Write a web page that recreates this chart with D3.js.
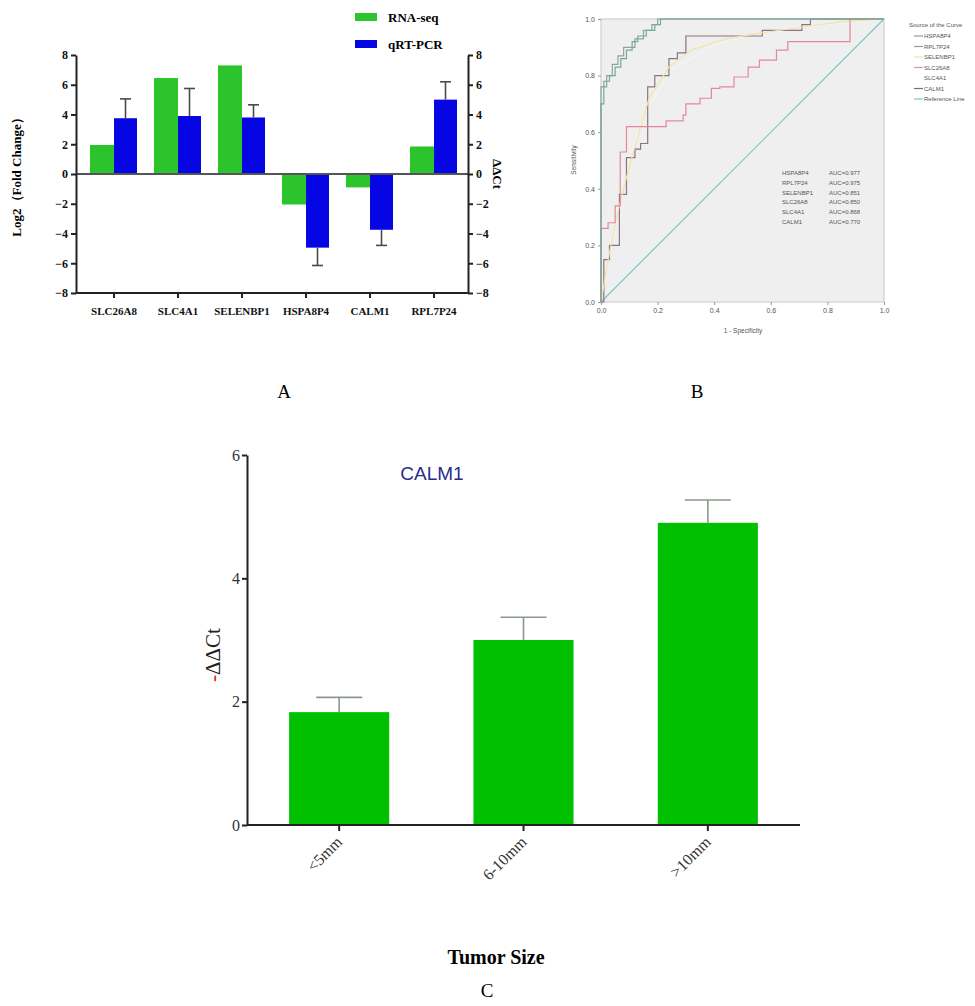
<!DOCTYPE html>
<html>
<head>
<meta charset="utf-8">
<style>
  body { margin: 0; background: #ffffff; }
  svg { display: block; }
</style>
<script src="https://d3js.org/d3.v7.min.js"></script>
</head>
<body>
<svg id="fig" width="975" height="1006"></svg>
<script>
var SERIF = '"Times New Roman", "Liberation Serif", serif';
var SANS = 'Arial, "Liberation Sans", sans-serif';

// ---- panel A data ----
var genes = ["SLC26A8", "SLC4A1", "SELENBP1", "HSPA8P4", "CALM1", "RPL7P24"];
var rnaSeq = [1.95, 6.45, 7.3, -2.05, -0.9, 1.85];
var qrtPcr = [3.75, 3.9, 3.8, -4.95, -3.75, 5.0];
var qrtPcrErr = [1.3, 1.85, 0.85, 1.2, 1.05, 1.2];
var ticksA = [-8, -6, -4, -2, 0, 2, 4, 6, 8];

// ---- panel B data (fpr, tpr) ----
var rocNames = ["HSPA8P4", "RPL7P24", "SELENBP1", "SLC26A8", "SLC4A1", "CALM1"];
var rocAuc = ["AUC=0.977", "AUC=0.975", "AUC=0.851", "AUC=0.850", "AUC=0.868", "AUC=0.770"];
var rocColors = ["#6fae90", "#8fa39c", "#f1e4a6", "#e3879a", "#f4f4f4", "#8b7382"];
var rocHSPA8P4 = [[0,0],[0,0.70],[0.01,0.70],[0.01,0.78],[0.03,0.78],[0.03,0.80],[0.05,0.80],[0.05,0.83],
  [0.07,0.83],[0.07,0.86],[0.09,0.86],[0.09,0.89],[0.11,0.89],[0.11,0.92],[0.13,0.92],[0.13,0.94],
  [0.16,0.94],[0.16,0.96],[0.19,0.96],[0.19,0.98],[0.21,0.98],[0.21,1],[1,1]];
var rocRPL7P24 = [[0,0],[0,0.76],[0.02,0.76],[0.02,0.80],[0.04,0.80],[0.04,0.84],[0.06,0.84],[0.06,0.87],
  [0.08,0.87],[0.08,0.90],[0.12,0.90],[0.12,0.93],[0.15,0.93],[0.15,0.96],[0.18,0.96],[0.18,0.98],
  [0.2,0.98],[0.2,1],[1,1]];
var rocSELENBP1 = [[0,0],[0.02,0.12],[0.05,0.28],[0.09,0.44],[0.12,0.55],[0.17,0.72],[0.24,0.83],
  [0.32,0.89],[0.44,0.93],[0.56,0.95],[0.7,0.97],[0.85,0.99],[1,1]];
var rocSLC26A8 = [[0,0],[0,0.26],[0.025,0.26],[0.025,0.28],[0.05,0.28],[0.05,0.34],[0.068,0.34],[0.068,0.53],
  [0.09,0.53],[0.09,0.62],[0.23,0.62],[0.23,0.64],[0.29,0.64],[0.29,0.66],[0.3,0.66],[0.3,0.70],
  [0.35,0.70],[0.35,0.72],[0.39,0.72],[0.39,0.755],[0.42,0.755],[0.42,0.76],[0.47,0.76],[0.47,0.795],
  [0.52,0.795],[0.52,0.83],[0.56,0.83],[0.56,0.855],[0.62,0.855],[0.62,0.89],[0.66,0.89],[0.66,0.92],
  [0.88,0.92],[0.88,1],[1,1]];
var rocSLC4A1 = [[0,0],[0.03,0.2],[0.08,0.45],[0.15,0.66],[0.25,0.82],[0.4,0.91],[0.6,0.96],[1,1]];
var rocCALM1 = [[0,0],[0.01,0],[0.01,0.15],[0.03,0.15],[0.03,0.2],[0.065,0.2],[0.065,0.38],[0.09,0.38],
  [0.09,0.51],[0.12,0.51],[0.12,0.54],[0.14,0.54],[0.14,0.56],[0.165,0.56],[0.165,0.76],[0.19,0.76],
  [0.19,0.80],[0.24,0.80],[0.24,0.86],[0.27,0.86],[0.27,0.88],[0.3,0.88],[0.3,0.94],[0.57,0.94],
  [0.57,0.96],[0.71,0.96],[0.71,0.98],[0.74,0.98],[0.74,1],[1,1]];
var rocCurves = [rocHSPA8P4, rocRPL7P24, rocSELENBP1, rocSLC26A8, rocSLC4A1, rocCALM1];
var ticksB = [0, 0.2, 0.4, 0.6, 0.8, 1.0];

// ---- panel C data ----
var sizes = ["<5mm", "6-10mm", ">10mm"];
var calm1 = [1.83, 3.0, 4.9];
var calm1Err = [0.24, 0.37, 0.37];
var ticksC = [0, 2, 4, 6];

var svg = d3.select("#fig");

// ================= Panel A =================
var greenA = "#2cc42c", blueA = "#0606e4";
var yA = d3.scaleLinear().domain([-8, 8]).range([293, 55]);
var xA = d3.scaleBand().domain(genes).range([82, 466]);
var gA = svg.append("g");

gA.selectAll(".rna").data(genes).enter().append("rect")
  .attr("x", function(d) { return xA(d) + xA.bandwidth() / 2 - 24; })
  .attr("y", function(d, i) { return yA(Math.max(0, rnaSeq[i])); })
  .attr("width", 24)
  .attr("height", function(d, i) { return Math.abs(yA(rnaSeq[i]) - yA(0)); })
  .attr("fill", greenA);

gA.selectAll(".pcr").data(genes).enter().append("rect")
  .attr("x", function(d) { return xA(d) + xA.bandwidth() / 2; })
  .attr("y", function(d, i) { return yA(Math.max(0, qrtPcr[i])); })
  .attr("width", 23)
  .attr("height", function(d, i) { return Math.abs(yA(qrtPcr[i]) - yA(0)); })
  .attr("fill", blueA);

// error bars going away from zero
var errA = gA.selectAll(".errA").data(genes).enter().append("g")
  .attr("stroke", "#4a4a4a").attr("stroke-width", 1.6);
errA.append("line")
  .attr("x1", function(d) { return xA(d) + xA.bandwidth() / 2 + 11.5; })
  .attr("x2", function(d) { return xA(d) + xA.bandwidth() / 2 + 11.5; })
  .attr("y1", function(d, i) { return yA(qrtPcr[i]); })
  .attr("y2", function(d, i) { return yA(qrtPcr[i] + Math.sign(qrtPcr[i]) * qrtPcrErr[i]); });
errA.append("line")
  .attr("x1", function(d) { return xA(d) + xA.bandwidth() / 2 + 6; })
  .attr("x2", function(d) { return xA(d) + xA.bandwidth() / 2 + 17; })
  .attr("y1", function(d, i) { return yA(qrtPcr[i] + Math.sign(qrtPcr[i]) * qrtPcrErr[i]); })
  .attr("y2", function(d, i) { return yA(qrtPcr[i] + Math.sign(qrtPcr[i]) * qrtPcrErr[i]); });

// zero line
gA.append("line").attr("x1", 76).attr("x2", 468).attr("y1", yA(0)).attr("y2", yA(0))
  .attr("stroke", "#555").attr("stroke-width", 2);

var axL = gA.append("g").attr("transform", "translate(76,0)")
  .call(d3.axisLeft(yA).tickValues(ticksA).tickFormat(d3.format("d")).tickSize(5).tickSizeOuter(0));
var axR = gA.append("g").attr("transform", "translate(468,0)")
  .call(d3.axisRight(yA).tickValues(ticksA).tickFormat(d3.format("d")).tickSize(5).tickSizeOuter(0));
var axB = gA.append("g").attr("transform", "translate(0,293)")
  .call(d3.axisBottom(xA).tickSize(5).tickSizeOuter(0).tickPadding(9));
axB.select(".domain").remove();
gA.append("line").attr("x1", 76).attr("x2", 468).attr("y1", 293).attr("y2", 293)
  .attr("stroke", "#222").attr("stroke-width", 2);
[axL, axR, axB].forEach(function(a) {
  a.attr("font-family", SERIF).attr("font-size", 12).attr("font-weight", "bold");
  a.selectAll("path, line").attr("stroke", "#222").attr("stroke-width", 2);
  a.selectAll("text").attr("fill", "#111");
});
axB.attr("font-size", 11);

gA.append("text").attr("font-family", SERIF)
  .attr("transform", "translate(21,174) rotate(-90)")
  .attr("text-anchor", "middle").attr("font-size", 13).attr("font-weight", "bold")
  .text("Log2（Fold Change）");
gA.append("text").attr("font-family", SERIF)
  .attr("transform", "translate(493,174) rotate(90)")
  .attr("text-anchor", "middle").attr("font-size", 13).attr("font-weight", "bold")
  .text("ΔΔCt");

var legA = [["RNA-seq", greenA], ["qRT-PCR", blueA]];
legA.forEach(function(l, i) {
  gA.append("rect").attr("x", 355).attr("y", 13 + i * 27).attr("width", 22).attr("height", 8).attr("fill", l[1]);
  gA.append("text").attr("font-family", SERIF).attr("x", 388).attr("y", 22 + i * 27)
    .attr("font-size", 13).attr("font-weight", "bold").text(l[0]);
});

// ================= Panel B =================
var xB = d3.scaleLinear().domain([0, 1]).range([601, 884]);
var yB = d3.scaleLinear().domain([0, 1]).range([302, 19]);
var gB = svg.append("g");
gB.append("rect").attr("x", 601).attr("y", 19).attr("width", 283).attr("height", 283)
  .attr("fill", "#efefef").attr("stroke", "#cfcfcf").attr("stroke-width", 1.2);

var line = d3.line().x(function(d) { return xB(d[0]); }).y(function(d) { return yB(d[1]); });
gB.append("path").datum([[0, 0], [1, 1]]).attr("d", line)
  .attr("fill", "none").attr("stroke", "#74c8c6").attr("stroke-width", 1.2);
var drawOrder = [4, 5, 2, 3, 1, 0];
drawOrder.forEach(function(k) {
  gB.append("path").datum(rocCurves[k]).attr("d", line)
    .attr("fill", "none").attr("stroke", rocColors[k]).attr("stroke-width", 1.2);
});

var axBx = gB.append("g").attr("transform", "translate(0,302)")
  .call(d3.axisBottom(xB).tickValues(ticksB).tickFormat(d3.format(".1f")).tickSize(3).tickSizeOuter(0));
var axBy = gB.append("g").attr("transform", "translate(601,0)")
  .call(d3.axisLeft(yB).tickValues(ticksB).tickFormat(d3.format(".1f")).tickSize(3).tickSizeOuter(0));
[axBx, axBy].forEach(function(a) {
  a.select(".domain").remove();
  a.attr("font-family", SANS).attr("font-size", 7);
  a.selectAll("line").attr("stroke", "#999");
  a.selectAll("text").attr("fill", "#555");
});
gB.append("text").attr("font-family", SANS).attr("x", 743).attr("y", 333)
  .attr("text-anchor", "middle").attr("font-size", 6.5).attr("fill", "#555").text("1 - Specificity");
gB.append("text").attr("font-family", SANS).attr("transform", "translate(576,160) rotate(-90)")
  .attr("text-anchor", "middle").attr("font-size", 6.5).attr("fill", "#555").text("Sensitivity");

rocNames.forEach(function(n, i) {
  gB.append("text").attr("font-family", SANS).attr("x", 782).attr("y", 175 + i * 9.8)
    .attr("font-size", 6).attr("fill", "#555").text(n);
  gB.append("text").attr("font-family", SANS).attr("x", 829).attr("y", 175 + i * 9.8)
    .attr("font-size", 6).attr("fill", "#555").text(rocAuc[i]);
});

// legend
var legColors = ["#7aa598", "#9a9a9a", "#f1e4a6", "#c9a0aa", "#ffffff", "#7b6a6a", "#74c8c6"];
var legNames = rocNames.concat(["Reference Line"]);
gB.append("text").attr("font-family", SANS).attr("x", 909).attr("y", 27)
  .attr("font-size", 6).attr("fill", "#555").text("Source of the Curve");
legNames.forEach(function(n, i) {
  var yy = 38 + i * 10.5;
  gB.append("line").attr("x1", 914).attr("x2", 923).attr("y1", yy - 2).attr("y2", yy - 2)
    .attr("stroke", legColors[i]).attr("stroke-width", 1.2);
  gB.append("text").attr("font-family", SANS).attr("x", 924).attr("y", yy)
    .attr("font-size", 6).attr("fill", "#555").text(n);
});

// ================= Panel C =================
var greenC = "#00c000";
var yC = d3.scaleLinear().domain([0, 6]).range([825, 455]);
var xC = d3.scaleBand().domain(sizes).range([247, 800]).paddingInner(0.457).paddingOuter(0.2285);
var gC = svg.append("g");

gC.selectAll(".barC").data(sizes).enter().append("rect")
  .attr("x", function(d) { return xC(d); })
  .attr("y", function(d, i) { return yC(calm1[i]); })
  .attr("width", xC.bandwidth())
  .attr("height", function(d, i) { return yC(0) - yC(calm1[i]); })
  .attr("fill", greenC);

var errC = gC.selectAll(".errC").data(sizes).enter().append("g")
  .attr("stroke", "#8a9a8a").attr("stroke-width", 1.6);
errC.append("line")
  .attr("x1", function(d) { return xC(d) + xC.bandwidth() / 2; })
  .attr("x2", function(d) { return xC(d) + xC.bandwidth() / 2; })
  .attr("y1", function(d, i) { return yC(calm1[i]); })
  .attr("y2", function(d, i) { return yC(calm1[i] + calm1Err[i]); });
errC.append("line")
  .attr("x1", function(d) { return xC(d) + xC.bandwidth() / 2 - 23; })
  .attr("x2", function(d) { return xC(d) + xC.bandwidth() / 2 + 23; })
  .attr("y1", function(d, i) { return yC(calm1[i] + calm1Err[i]); })
  .attr("y2", function(d, i) { return yC(calm1[i] + calm1Err[i]); });

var axCy = gC.append("g").attr("transform", "translate(247,0)")
  .call(d3.axisLeft(yC).tickValues(ticksC).tickFormat(d3.format("d")).tickSize(5).tickSizeOuter(0).tickPadding(2));
var axCx = gC.append("g").attr("transform", "translate(0,825)")
  .call(d3.axisBottom(xC).tickSize(6).tickSizeOuter(0));
axCx.select(".domain").remove();
gC.append("line").attr("x1", 247).attr("x2", 800).attr("y1", 825).attr("y2", 825)
  .attr("stroke", "#222").attr("stroke-width", 2);
[axCy, axCx].forEach(function(a) {
  a.attr("font-family", SERIF).attr("font-size", 16);
  a.selectAll("path, line").attr("stroke", "#222").attr("stroke-width", 2);
  a.selectAll("text").attr("fill", "#333");
});
axCx.selectAll("text")
  .attr("text-anchor", "end").attr("dy", null).attr("y", 0)
  .attr("transform", "translate(4,18) rotate(-45)");

gC.append("text").attr("font-family", SANS).attr("x", 432).attr("y", 480)
  .attr("text-anchor", "middle").attr("font-size", 19).attr("fill", "#2b2b8c").text("CALM1");
var yl = gC.append("text").attr("font-family", SERIF)
  .attr("transform", "translate(220,655) rotate(-90)")
  .attr("text-anchor", "middle").attr("font-size", 21);
yl.append("tspan").attr("fill", "#d42020").text("-");
yl.append("tspan").attr("fill", "#222").text("ΔΔCt");
gC.append("text").attr("font-family", SERIF).attr("x", 496).attr("y", 964)
  .attr("text-anchor", "middle").attr("font-size", 20).attr("font-weight", "bold").text("Tumor Size");

// panel letters
svg.append("text").attr("font-family", SERIF).attr("x", 284).attr("y", 398)
  .attr("text-anchor", "middle").attr("font-size", 19).text("A");
svg.append("text").attr("font-family", SERIF).attr("x", 697).attr("y", 398)
  .attr("text-anchor", "middle").attr("font-size", 19).text("B");
svg.append("text").attr("font-family", SERIF).attr("x", 487).attr("y", 997)
  .attr("text-anchor", "middle").attr("font-size", 19).text("C");
</script>
</body>
</html>
